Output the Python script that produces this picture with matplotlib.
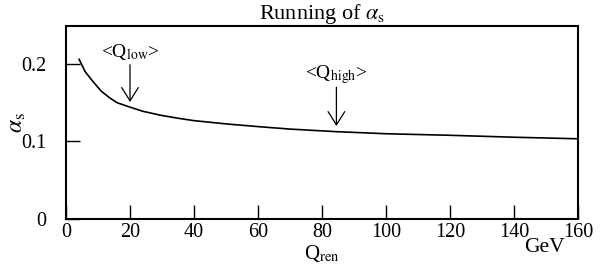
import numpy as np
import matplotlib.pyplot as plt

plt.rcParams['font.family'] = 'Liberation Serif'
plt.rcParams['mathtext.fontset'] = 'stix'

# Running coupling
q_ren = [4.1, 6, 8.5, 11, 13.75, 16, 19.5, 24, 29.4, 35, 39.8, 50.2, 60.6, 70, 84.4, 100, 120, 140, 160]
alpha_s = [0.206, 0.19, 0.177, 0.165, 0.156, 0.150, 0.145, 0.139, 0.134, 0.130, 0.127,
           0.1226, 0.119, 0.116, 0.1127, 0.110, 0.108, 0.1055, 0.1035]

# arrows: (x, label, label y, arrow start, arrow tip)
marks = [(20, r'<Q$_{\mathrm{low}}$>', 0.209, 0.199, 0.151),
         (84.5, r'<Q$_{\mathrm{high}}$>', 0.182, 0.170, 0.120)]

xticks = [0, 20, 40, 60, 80, 100, 120, 140, 160]
yticks = [0, 0.1, 0.2]
ylabels = ['0', '0.1', '0.2']

fig = plt.figure(figsize=(6.08, 2.65), dpi=100)
ax = fig.add_axes([66/608, 1-219/265, 512/608, 193/265])

ax.plot(q_ren, alpha_s, color='black', lw=1.2)

for x, lab, ty, y0, y1 in marks:
    ax.text(x, ty, lab, ha='center', va='baseline', fontsize=14)
    ax.annotate('', xy=(x, y1), xytext=(x, y0),
                arrowprops=dict(arrowstyle='->,head_length=0.95,head_width=0.6',
                                color='black', lw=0.9, mutation_scale=10,
                                shrinkA=0, shrinkB=0))

ax.set_xlim(0, 160)
ax.set_ylim(0, 0.249)
ax.set_xticks(xticks)
ax.set_yticks(yticks)
ax.set_yticklabels(ylabels)
ax.tick_params(direction='in', length=10, width=1, labelsize=14.5)
ax.tick_params(axis='x', pad=3)
ax.tick_params(axis='y', pad=14)
for s in ax.spines.values():
    s.set_linewidth(1.5)

ax.set_title(r'Running of $\alpha_{\mathrm{s}}$', fontsize=16, pad=3)
ax.set_xlabel(r'Q$_{\mathrm{ren}}$', fontsize=15, labelpad=0.5)
ax.set_ylabel(r'$\alpha_{\mathrm{s}}$', fontsize=17)
ax.yaxis.set_label_coords(-0.074, 0.5)
ax.text(0.935, -0.1, 'GeV', transform=ax.transAxes, ha='center', va='top', fontsize=15.5)

fig.savefig('out.png', dpi=100)
